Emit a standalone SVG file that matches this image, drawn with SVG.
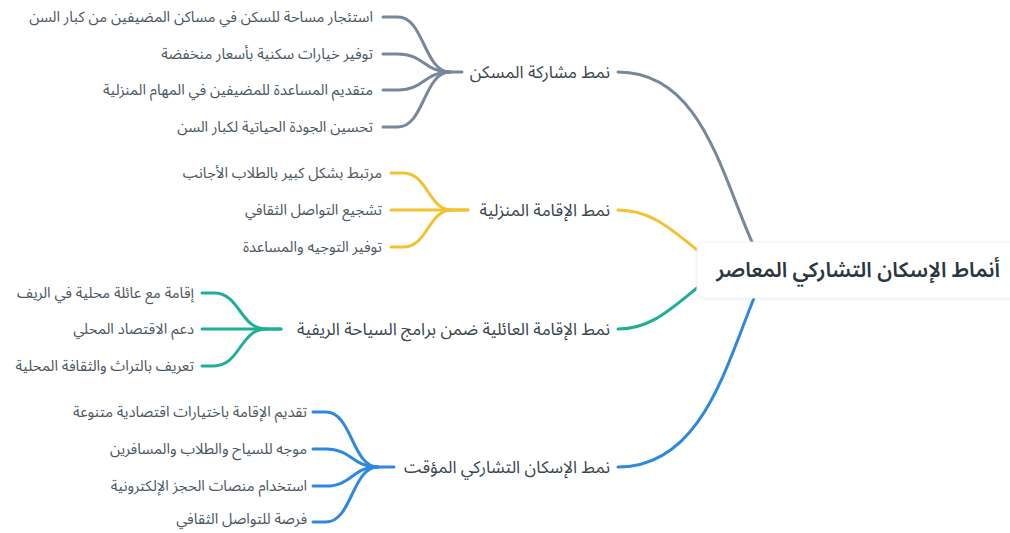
<svg xmlns="http://www.w3.org/2000/svg" width="1010" height="533" viewBox="0 0 1010 533">
<defs>
<style>
text{font-family:"Noto Sans Arabic","Noto Sans","DejaVu Sans",sans-serif;text-anchor:end}
.root{font-size:21px;font-weight:600;fill:#2c3640}
.br{font-size:17px;fill:#3a4550}
.lf{font-size:14.8px;fill:#4b5661}
.c{fill:none;stroke-width:3;stroke-linecap:round}
.g{stroke:#76889a}.y{stroke:#f4c12f}.t{stroke:#1fae96}.b{stroke:#2f88df}
</style>
<filter id="sh" x="-10%" y="-30%" width="120%" height="160%"><feDropShadow dx="0" dy="1" stdDeviation="1.5" flood-color="#000" flood-opacity="0.06"/></filter>
</defs>
<rect width="1010" height="533" fill="#fff"/>
<g id="connectors">
<path class="c g" d="M618,72 C700,72 720,170 752,242"/>
<path class="c y" d="M618,210 C650,210 670,228 697,250"/>
<path class="c t" d="M618,329 C650,329 670,310 697,288"/>
<path class="c b" d="M618,467 C700,467 725,370 754,298"/>
<path class="c g" d="M383,17 H398 C424,17 424,72 450,72 H462"/>
<path class="c g" d="M383,54 H398 C424,54 424,72 450,72"/>
<path class="c g" d="M383,90 H398 C424,90 424,72 450,72"/>
<path class="c g" d="M383,127 H398 C424,127 424,72 450,72"/>
<path class="c y" d="M391,173 H403 C428,173 428,210 452,210 H468"/>
<path class="c y" d="M391,210 H468"/>
<path class="c y" d="M391,247 H403 C428,247 428,210 452,210"/>
<path class="c t" d="M202,293 H214 C240,293 240,329 266,329 H281"/>
<path class="c t" d="M202,329 H281"/>
<path class="c t" d="M202,366 H214 C240,366 240,329 266,329"/>
<path class="c b" d="M313,412 H326 C352,412 352,467 378,467 H394"/>
<path class="c b" d="M313,449 H326 C352,449 352,467 378,467"/>
<path class="c b" d="M313,486 H326 C352,486 352,467 378,467"/>
<path class="c b" d="M313,522 H326 C352,522 352,467 378,467"/>
</g>
<g id="root">
<rect x="697" y="242" width="330" height="56" rx="8" fill="#fff" stroke="#eef0f2" filter="url(#sh)"/>
<text class="root" x="1000" y="277">أنماط الإسكان التشاركي المعاصر</text>
</g>
<g id="b1"><text class="br" x="610" y="78">نمط مشاركة المسكن</text></g>
<g id="b2"><text class="br" x="610" y="216">نمط الإقامة المنزلية</text></g>
<g id="b3"><text class="br" x="610" y="335">نمط الإقامة العائلية ضمن برامج السياحة الريفية</text></g>
<g id="b4"><text class="br" x="610" y="473">نمط الإسكان التشاركي المؤقت</text></g>
<g id="l1"><text class="lf" x="373" y="22">استئجار مساحة للسكن في مساكن المضيفين من كبار السن</text></g>
<g id="l2"><text class="lf" x="373" y="59">توفير خيارات سكنية بأسعار منخفضة</text></g>
<g id="l3"><text class="lf" x="373" y="95">متقديم المساعدة للمضيفين في  المهام المنزلية</text></g>
<g id="l4"><text class="lf" x="373" y="132">تحسين الجودة الحياتية لكبار السن</text></g>
<g id="l5"><text class="lf" x="382" y="178">مرتبط بشكل كبير بالطلاب الأجانب</text></g>
<g id="l6"><text class="lf" x="382" y="215">تشجيع التواصل الثقافي</text></g>
<g id="l7"><text class="lf" x="382" y="252">توفير التوجيه والمساعدة</text></g>
<g id="l8"><text class="lf" x="194" y="298">إقامة مع عائلة محلية في الريف</text></g>
<g id="l9"><text class="lf" x="194" y="334">دعم الاقتصاد المحلي</text></g>
<g id="l10"><text class="lf" x="194" y="371">تعريف بالتراث والثقافة المحلية</text></g>
<g id="l11"><text class="lf" x="307" y="417">تقديم الإقامة باختيارات اقتصادية متنوعة</text></g>
<g id="l12"><text class="lf" x="307" y="454">موجه للسياح والطلاب والمسافرين</text></g>
<g id="l13"><text class="lf" x="307" y="491">استخدام منصات الحجز الإلكترونية</text></g>
<g id="l14"><text class="lf" x="307" y="524">فرصة للتواصل الثقافي</text></g>
</svg>
